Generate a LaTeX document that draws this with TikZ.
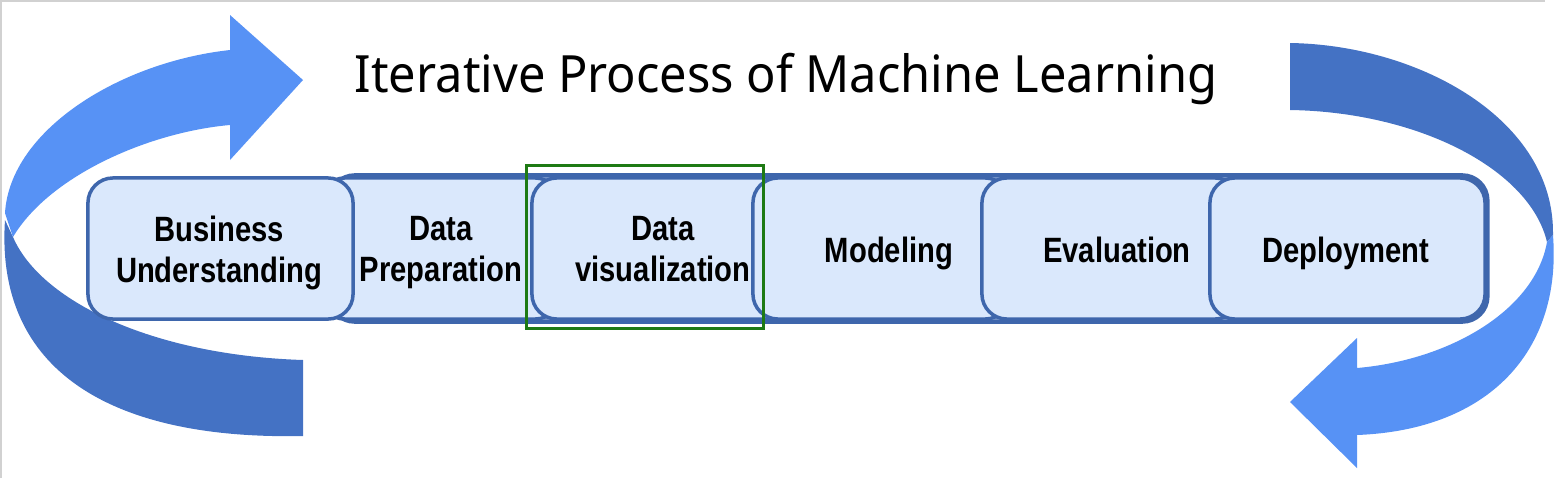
\documentclass[tikz,border=0pt]{standalone}
\usepackage{fontspec}
\setmainfont{Noto Sans}
\newfontfamily\titlefont[FakeStretch=0.95]{Noto Sans}
\newfontfamily\boxfont[FakeStretch=0.83]{Liberation Sans}
\usepackage{tikz}
\usetikzlibrary{positioning}

\definecolor{arrowlight}{RGB}{87,146,245}
\definecolor{arrowdark}{RGB}{68,114,196}
\definecolor{boxfill}{RGB}{218,232,252}
\definecolor{boxline}{RGB}{62,102,172}
\definecolor{framegreen}{RGB}{30,122,20}

\tikzset{
  stepbox/.style={draw=boxline, fill=boxfill, line width=0.035cm,
    rounded corners=0.25cm, minimum height=1.41cm, inner sep=0pt},
  steplabel/.style={align=center, inner sep=0pt,
    font=\boxfont\bfseries\fontsize{10}{11.7}\selectfont,
    execute at end node=\vphantom{g}},
  bandbox/.style={draw=boxline, fill=boxfill, line width=0.045cm,
    rounded corners=0.25cm, minimum height=1.46cm, inner sep=0pt}
}

\begin{document}
\begin{tikzpicture}[x=0.01cm,y=-0.01cm]
\useasboundingbox (0,0) rectangle (1556,478);
\draw[black!18, line width=0.02cm] (1,478) -- (1,1) -- (1545,1);

% left loop
\fill[arrowdark] (5,220) .. controls (-5,370) and (110,440) .. (303,436)
  -- (303,360) .. controls (150,355) and (40,300) .. (13,237) -- cycle;
\fill[arrowlight] (303,80) -- (230,160) -- (230,125)
  .. controls (150,132) and (50,175) .. (13,237) -- (5,213)
  .. controls (10,130) and (120,62) .. (230,50) -- (230,15) -- cycle;

% right loop
\fill[arrowdark] (1290,43) .. controls (1420,45) and (1555,120) .. (1553,235)
  -- (1547,242) .. controls (1530,170) and (1420,112) .. (1290,110) -- cycle;
\fill[arrowlight] (1553,235) .. controls (1562,350) and (1490,430) .. (1357,435)
  -- (1357,468) -- (1290,402) -- (1357,338) -- (1357,368)
  .. controls (1450,360) and (1535,310) .. (1547,242) -- cycle;

\node[bandbox, minimum width=11.57cm] (band) at (908.5,248.5) {};

\node[stepbox, minimum width=2.40cm] (prep) at (440,248.5) {};
\node[stepbox, minimum width=2.65cm] (bu) at (220.5,248.5) {};
\node[stepbox, minimum width=2.68cm] (vis) at (666,248.5) {};
\node[stepbox, minimum width=2.57cm] (model) at (881.5,248.5) {};
\node[stepbox, minimum width=2.58cm] (eval) at (1111,248.5) {};
\node[stepbox, minimum width=2.75cm] (deploy) at (1347.5,248.5) {};

\node[steplabel] (bulabel) at (219,253) {Business\\Understanding};
\node[steplabel] (preplabel) at (441,253) {Data\\Preparation};
\node[steplabel] (vislabel) at (663,253) {Data\\visualization};
\node[steplabel] (modellabel) at (889,253) {Modeling};
\node[steplabel] (evallabel) at (1117,253) {Evaluation};
\node[steplabel] (deploylabel) at (1346,253) {Deployment};

\draw[framegreen, line width=0.03cm] (526,165) rectangle (763,328);

\node[anchor=base, inner sep=0pt, font=\titlefont\fontsize{14.6}{17}\selectfont]
  (title) at (786,92) {Iterative Process of Machine Learning};
\end{tikzpicture}
\end{document}
